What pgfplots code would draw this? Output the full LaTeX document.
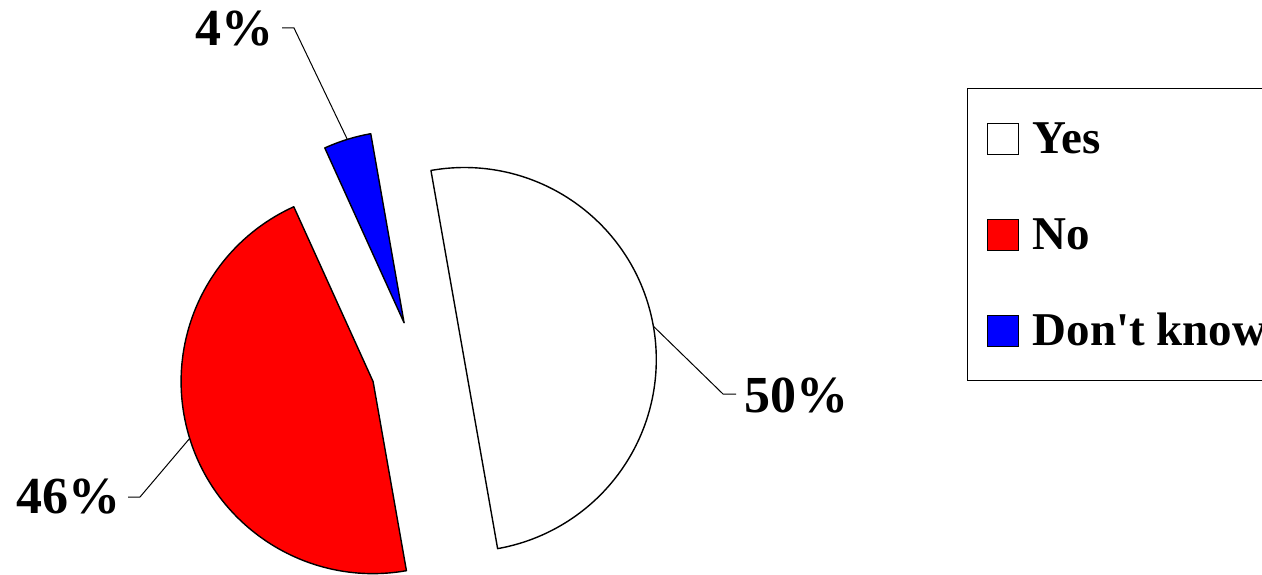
\documentclass[border=0pt]{standalone}
\usepackage{fontspec}
\setmainfont{Liberation Serif}
\usepackage{pgfplots}
\usepackage{pgfplotstable}
\pgfplotsset{compat=1.18}

% shares of answers, in per cent
\pgfplotstableread{
label value
Yes 50
No 46
{Don't know} 4
}\piedata

% pie geometry (axis units = pt)
\def\pcx{418}     % centre x
\def\pcy{206.3}   % centre y
\def\pexp{47}     % explode distance
\def\prad{192pt}  % radius

% #1 colour, #2 start angle, #3 end angle, #4 name of leader start
\newcommand\pieslice[4]{%
  \pgfmathsetmacro\pmid{(#2+#3)/2}%
  \pgfmathsetmacro\psx{\pcx+\pexp*cos(\pmid)}%
  \pgfmathsetmacro\psy{\pcy+\pexp*sin(\pmid)}%
  \draw[fill=#1, line width=1.4pt, line join=round]
    (axis cs:\psx,\psy) -- ++(#2:\prad)
    arc[start angle=#2, end angle=#3, radius=\prad] -- cycle;
  \path (axis cs:\psx,\psy) ++(\pmid:\prad) coordinate (#4);
}

\begin{document}
\begin{tikzpicture}
\pgfplotstablegetelem{0}{value}\of\piedata \let\vYes\pgfplotsretval
\pgfplotstablegetelem{1}{value}\of\piedata \let\vNo\pgfplotsretval
\pgfplotstablegetelem{2}{value}\of\piedata \let\vDk\pgfplotsretval
\pgfmathsetmacro\aA{100}
\pgfmathsetmacro\aB{\aA-3.6*\vYes}
\pgfmathsetmacro\aC{\aB-3.6*\vNo}
\pgfmathsetmacro\aD{\aC-3.6*\vDk}
\begin{axis}[
    width=1262pt, height=574pt,
    scale only axis,
    xmin=0, xmax=1262, ymin=0, ymax=574,
    hide axis,
    clip=false,
    legend style={
        at={(axis cs:967,486)}, anchor=north west,
        draw=black, line width=1.2pt,
        font=\fontsize{47}{56}\selectfont\bfseries,
        inner xsep=19pt, inner ysep=34pt,
        row sep=64pt, column sep=14pt,
        nodes={inner sep=0pt, text height=31pt, text depth=0pt},
        legend cell align=left,
    },
    legend image code/.code={
        \draw[#1, line width=1pt] (0pt,-16pt) rectangle (31pt,15pt);
    },
]
\coordinate (ll) at (rel axis cs:0,0);
\coordinate (ur) at (rel axis cs:1,1);

\pgfplotsextra{
  \pieslice{white}{\aA}{\aB}{lYes}
  \pieslice{red}{\aB}{\aC}{lNo}
  \pieslice{blue}{\aC}{\aD}{lDk}
}

% leader lines and labels
\draw[line width=1pt] (lYes) -- (axis cs:723,180) -- (axis cs:736,180);
\node[anchor=west, inner sep=0pt, font=\fontsize{52}{60}\selectfont\bfseries]
  at (axis cs:744,178) {\vYes\%};
\draw[line width=1pt] (lNo) -- (axis cs:140,77) -- (axis cs:128,77);
\node[anchor=east, inner sep=0pt, font=\fontsize{52}{60}\selectfont\bfseries]
  at (axis cs:121,77) {\vNo\%};
\draw[line width=1pt] (lDk) -- (axis cs:294,546) -- (axis cs:282,546);
\node[anchor=east, inner sep=0pt, font=\fontsize{52}{60}\selectfont\bfseries]
  at (axis cs:274,545) {\vDk\%};

\addlegendimage{fill=white, draw=black}
\addlegendentry{Yes}
\addlegendimage{fill=red, draw=black}
\addlegendentry{No}
\addlegendimage{fill=blue, draw=black}
\addlegendentry{Don\textquotesingle t know}
\end{axis}
\pgfresetboundingbox
\path[use as bounding box] (ll) rectangle (ur);
\end{tikzpicture}
\end{document}
